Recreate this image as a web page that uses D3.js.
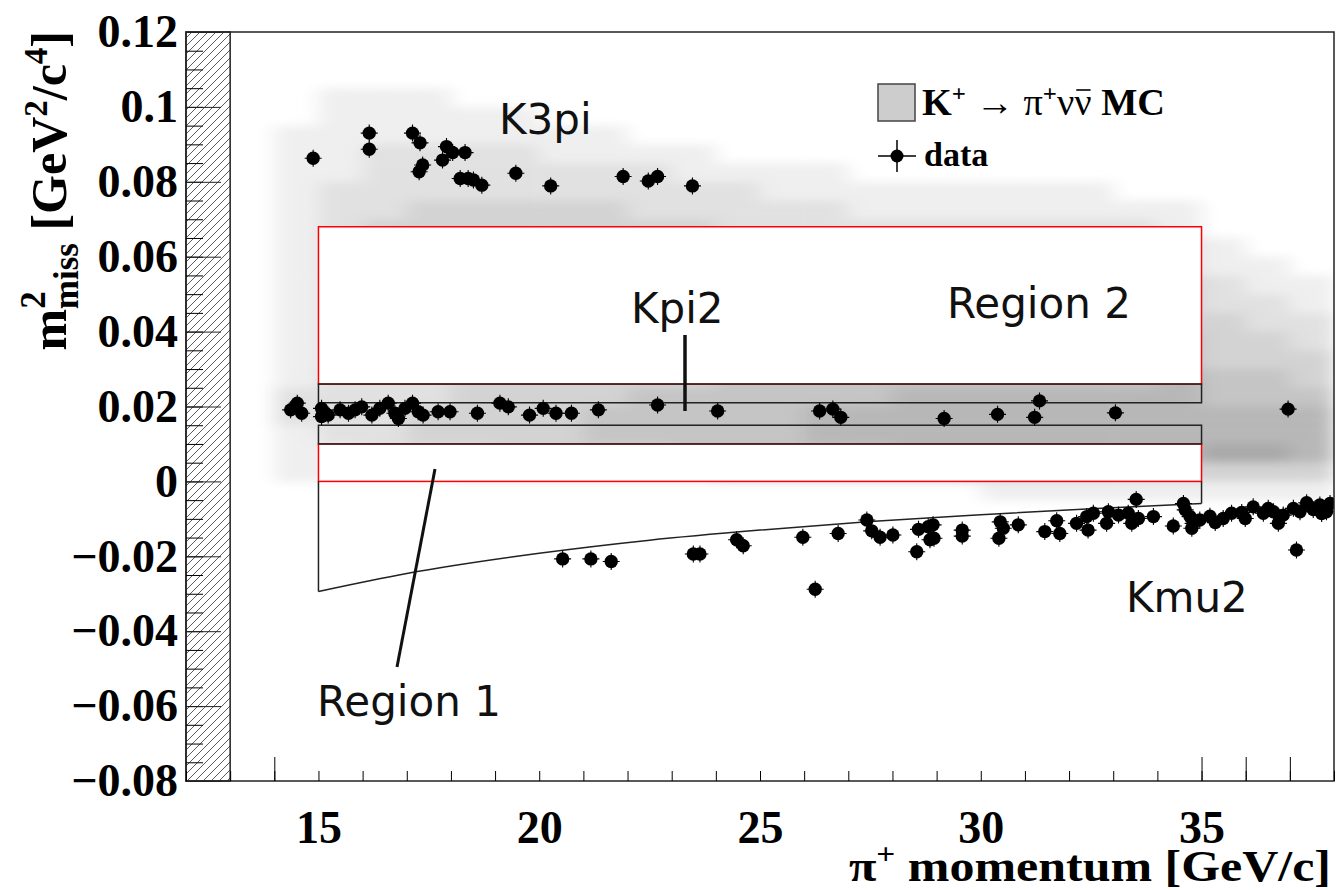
<!DOCTYPE html>
<html>
<head>
<meta charset="utf-8">
<script src="https://cdn.jsdelivr.net/npm/d3@7"></script>
<style>
  body { margin: 0; background: #fff; }
  .serif { font-family: "Liberation Serif", "Times New Roman", serif; font-weight: bold; }
  .sans { font-family: "DejaVu Sans", Verdana, sans-serif; }
</style>
</head>
<body>
<svg id="chart"></svg>
<script>
// DATA ///////////////////////////////////////////////////////////////////

// K3pi data points [p (GeV/c), m2miss (GeV^2/c^4)]
var k3pi_data = [
  [14.88, 0.0863], [16.15, 0.0930], [16.15, 0.0887], [17.13, 0.0930], [17.30, 0.0904],
  [17.90, 0.0894], [17.81, 0.0858], [18.04, 0.0878], [18.32, 0.0878], [17.36, 0.0845],
  [17.28, 0.0827], [18.21, 0.0809], [18.39, 0.0809], [18.51, 0.0805], [18.70, 0.0791],
  [19.47, 0.0823], [20.26, 0.0789], [21.90, 0.0814], [22.47, 0.0802], [22.68, 0.0814],
  [23.47, 0.0789]
];

// Kpi2 data points
var kpi2_data = [
  [14.37, 0.0191], [14.52, 0.0209], [14.62, 0.0182], [15.07, 0.0195], [15.07, 0.0173],
  [15.22, 0.0177], [15.49, 0.0191], [15.68, 0.0182], [15.83, 0.0191], [15.98, 0.0199],
  [16.21, 0.0177], [16.39, 0.0195], [16.58, 0.0209], [16.73, 0.0182], [16.81, 0.0168],
  [16.96, 0.0195], [17.13, 0.0209], [17.26, 0.0186], [17.37, 0.0177], [17.71, 0.0186],
  [17.98, 0.0186], [18.60, 0.0182], [19.11, 0.0209], [19.30, 0.0199], [19.78, 0.0177],
  [20.09, 0.0195], [20.38, 0.0182], [20.73, 0.0182], [21.34, 0.0191], [22.68, 0.0204],
  [24.04, 0.0188], [26.35, 0.0188], [26.65, 0.0193], [26.83, 0.0171], [29.17, 0.0168],
  [30.38, 0.0179], [31.22, 0.0171], [31.33, 0.0215], [33.05, 0.0183], [36.96, 0.0193]
];

// Kmu2 data points
var kmu2_data = [
  [20.53, -0.0207], [21.17, -0.0207], [21.63, -0.0214], [23.49, -0.0194], [23.64, -0.0194],
  [24.47, -0.0156], [24.62, -0.0172], [25.97, -0.0149], [26.25, -0.0288], [26.77, -0.0139],
  [27.42, -0.0103], [27.53, -0.0132], [27.72, -0.0149], [28.01, -0.0143], [28.59, -0.0128],
  [28.55, -0.0188], [28.81, -0.0121], [28.85, -0.0156], [28.92, -0.0116], [28.94, -0.0152],
  [29.58, -0.0130], [29.58, -0.0146], [30.44, -0.0108], [30.51, -0.0125], [30.41, -0.0152],
  [30.85, -0.0116], [31.45, -0.0134], [31.72, -0.0105], [31.79, -0.0139], [32.17, -0.0112],
  [32.40, -0.0094], [32.43, -0.0130], [32.55, -0.0085], [32.89, -0.0081], [32.85, -0.0112],
  [33.12, -0.0090], [33.34, -0.0085], [33.42, -0.0112], [33.52, -0.0048], [33.57, -0.0099],
  [33.91, -0.0094], [34.36, -0.0119], [34.59, -0.0059], [34.63, -0.0076], [34.74, -0.0094],
  [34.81, -0.0112], [34.78, -0.0125], [34.96, -0.0103], [35.19, -0.0093], [35.31, -0.0110],
  [35.49, -0.0099], [35.68, -0.0085], [35.91, -0.0083], [35.99, -0.0099], [36.17, -0.0068],
  [36.40, -0.0085], [36.51, -0.0072], [36.63, -0.0081], [36.74, -0.0112], [36.85, -0.0090],
  [37.08, -0.0072], [37.15, -0.0183], [37.23, -0.0081], [37.38, -0.0057], [37.53, -0.0075],
  [37.68, -0.0063], [37.72, -0.0086], [37.83, -0.0081], [37.91, -0.0059]
];

// Region 1 lower boundary (Kmu2 kinematic edge)
var bound_p  = [15, 17, 20, 22.5, 25, 27.5, 30, 32.5, 35];
var bound_m2 = [-0.0294, -0.0246, -0.0192, -0.0157, -0.0130, -0.0107, -0.0089, -0.0073, -0.0059];

// signal / control regions
var p_range = [15, 35];
var region1 = [0, 0.01];
var region2 = [0.026, 0.068];
var control_boxes = [[0.021, 0.026], [0.010, 0.015]];

// K+ -> pi+ nu nubar MC, gray level per cell (0 = empty)
// columns: p = 14..37 (1 GeV), rows: m2 bin lower edge from 0.105 down to -0.005 (0.005 steps)
var mc_p0 = 14, mc_dp = 1;
var mc_m2_top = 0.105, mc_dm2 = 0.005;
var mc_rows = [
  "000000000000000000000000",
  "011100000000000000000000",
  "011111000000000000000000",
  "111111110000000000000000",
  "112222111100000000000000",
  "112222222111100000000000",
  "122222222221111111100000",
  "122333332222211111111000",
  "123333333322222222221000",
  "123333333333332222222100",
  "123333333333333333222110",
  "123333333333333333333211",
  "123333333333333333333221",
  "123333333333333333333322",
  "123333333333333444444332",
  "123333333333444444444333",
  "122233333344444444445443",
  "222233334444445555555444",
  "222333344444555555555555",
  "122333344444555555555555",
  "112223333444445555555665",
  "111122222233333333333333",
  "000000000000000011111111"
];

var y_ticks = [-0.08, -0.06, -0.04, -0.02, 0, 0.02, 0.04, 0.06, 0.08, 0.1, 0.12];
var x_labels = [15, 20, 25, 30, 35];
var x_long_ticks = [14, 35, 36, 37];

// SETUP //////////////////////////////////////////////////////////////////

const W = 1336, H = 890;
const LEFT = 186, RIGHT = 1334, TOP = 32, BOTTOM = 781;

var svg = d3.select('#chart').attr('width', W).attr('height', H);

var x = d3.scaleLinear().domain([12, 38]).range([LEFT, RIGHT]);
var y = d3.scaleLinear().domain([-0.08, 0.12]).range([BOTTOM, TOP]);

var grey = d3.scaleLinear().domain([1, 6]).range(['#efefef', '#a9a9a9']);

var defs = svg.append('defs');
defs.append('clipPath').attr('id', 'plotclip')
    .append('rect').attr('x', LEFT).attr('y', TOP)
    .attr('width', RIGHT - LEFT).attr('height', BOTTOM - TOP);
defs.append('filter').attr('id', 'soft')
    .attr('x', '-5%').attr('y', '-5%').attr('width', '110%').attr('height', '110%')
    .append('feGaussianBlur').attr('stdDeviation', '10 5');
var hatch = defs.append('pattern').attr('id', 'hatch')
    .attr('patternUnits', 'userSpaceOnUse').attr('width', 8).attr('height', 8);
hatch.append('path').attr('d', 'M-2,2 l4,-4 M0,8 l8,-8 M6,10 l4,-4')
    .attr('stroke', '#333').attr('stroke-width', 0.8);

var plot = svg.append('g').attr('clip-path', 'url(#plotclip)');

// MC HISTOGRAM ///////////////////////////////////////////////////////////

var mc_cells = [];
mc_rows.forEach(function (row, r) {
    row.split('').forEach(function (c, i) {
        var v = +c;
        if (v > 0) mc_cells.push({ p: mc_p0 + i * mc_dp, m2: mc_m2_top - r * mc_dm2, v: v });
    });
});

plot.append('g').attr('filter', 'url(#soft)')
    .selectAll('rect')
    .data(mc_cells)
    .enter()
    .append('rect')
    .attr('x', function (d) { return x(d.p); })
    .attr('y', function (d) { return y(d.m2 + mc_dm2); })
    .attr('width', function (d) { return x(d.p + mc_dp) - x(d.p) + 0.5; })
    .attr('height', function (d) { return y(d.m2) - y(d.m2 + mc_dm2) + 0.5; })
    .attr('fill', function (d) { return grey(d.v); });

// REGIONS ////////////////////////////////////////////////////////////////

[region2, region1].forEach(function (r) {
    plot.append('rect')
        .attr('x', x(p_range[0])).attr('y', y(r[1]))
        .attr('width', x(p_range[1]) - x(p_range[0]))
        .attr('height', y(r[0]) - y(r[1]))
        .attr('fill', '#fff')
        .attr('stroke', '#f00').attr('stroke-width', 1.5);
});

control_boxes.forEach(function (r) {
    plot.append('rect')
        .attr('x', x(p_range[0])).attr('y', y(r[1]))
        .attr('width', x(p_range[1]) - x(p_range[0]))
        .attr('height', y(r[0]) - y(r[1]))
        .attr('fill', 'none')
        .attr('stroke', '#222').attr('stroke-width', 1.5);
});

// region 1 outline below zero
var bound = bound_p.map(function (p, i) { return [p, bound_m2[i]]; });
var line = d3.line()
    .x(function (d) { return x(d[0]); })
    .y(function (d) { return y(d[1]); });
plot.append('path')
    .attr('d', line.curve(d3.curveMonotoneX)(bound))
    .attr('fill', 'none').attr('stroke', '#222').attr('stroke-width', 1.5);
[[[p_range[0], region1[0]], bound[0]], [[p_range[1], region1[0]], bound[bound.length - 1]]]
    .forEach(function (seg) {
        plot.append('path')
            .attr('d', line.curve(d3.curveLinear)(seg))
            .attr('fill', 'none').attr('stroke', '#222').attr('stroke-width', 1.5);
    });

// DATA POINTS ////////////////////////////////////////////////////////////

var all_data = k3pi_data.concat(kpi2_data).concat(kmu2_data);
var marks = plot.append('g').selectAll('g')
    .data(all_data)
    .enter()
    .append('g')
    .attr('transform', function (d) { return 'translate(' + x(d[0]) + ',' + y(d[1]) + ')'; });
marks.append('path').attr('d', 'M-8.5,0H8.5M0,-8.5V8.5')
    .attr('stroke', '#000').attr('stroke-width', 1.1);
marks.append('circle').attr('r', 6.7).attr('fill', '#000');

// HATCHED BAND + FRAME ///////////////////////////////////////////////////

svg.append('rect')
    .attr('x', x(12)).attr('y', TOP)
    .attr('width', x(13) - x(12)).attr('height', BOTTOM - TOP)
    .attr('fill', 'url(#hatch)').attr('stroke', '#222').attr('stroke-width', 1.5);

svg.append('rect')
    .attr('x', LEFT).attr('y', TOP)
    .attr('width', RIGHT - LEFT).attr('height', BOTTOM - TOP)
    .attr('fill', 'none').attr('stroke', '#222').attr('stroke-width', 1.5);

// AXES ///////////////////////////////////////////////////////////////////

// y minor ticks
svg.append('g')
    .attr('transform', 'translate(' + LEFT + ',0)')
    .call(d3.axisLeft(y).ticks(40).tickSize(-17).tickFormat(''))
    .call(function (g) { g.select('.domain').remove(); });

// y major ticks + labels
var yaxis = svg.append('g')
    .attr('transform', 'translate(' + LEFT + ',0)')
    .call(d3.axisLeft(y).tickValues(y_ticks).tickSize(-35).tickPadding(8).tickFormat(d3.format('~g')));
yaxis.select('.domain').remove();
yaxis.selectAll('line').attr('stroke', '#222');
yaxis.selectAll('text')
    .attr('class', 'serif')
    .style('font-size', '46px')
    .attr('fill', '#000');

// x minor ticks
svg.append('g')
    .attr('transform', 'translate(0,' + BOTTOM + ')')
    .call(d3.axisBottom(x).ticks(26).tickSize(-10).tickFormat(''))
    .call(function (g) { g.select('.domain').remove(); });

// x long ticks
svg.append('g')
    .attr('transform', 'translate(0,' + BOTTOM + ')')
    .call(d3.axisBottom(x).tickValues(x_long_ticks).tickSize(-24).tickFormat(''))
    .call(function (g) { g.select('.domain').remove(); });

// x labels
var xaxis = svg.append('g')
    .attr('transform', 'translate(0,' + BOTTOM + ')')
    .call(d3.axisBottom(x).tickValues(x_labels).tickSize(0).tickFormat(d3.format('d')));
xaxis.select('.domain').remove();
xaxis.selectAll('text')
    .attr('class', 'serif')
    .attr('y', 62).attr('dy', 0)
    .style('font-size', '46px')
    .attr('fill', '#000');

// axis titles
var xt = svg.append('text').attr('class', 'serif')
    .attr('x', 1331).attr('y', 881)
    .attr('textLength', 482).attr('lengthAdjust', 'spacingAndGlyphs')
    .style('font-size', '45px').style('text-anchor', 'end');
xt.append('tspan').text('\u03C0');
xt.append('tspan').attr('dy', -17).style('font-size', '30px').text('+');
xt.append('tspan').attr('dy', 17).text(' momentum [GeV/c]');

var yt = svg.append('text').attr('class', 'serif')
    .attr('transform', 'translate(66,31) rotate(-90)')
    .style('font-size', '50px').style('text-anchor', 'end');
yt.append('tspan').text('m');
yt.append('tspan').attr('dy', -21).style('font-size', '35px').text('2');
yt.append('tspan').attr('dx', -18).attr('dy', 33).style('font-size', '35px').text('miss');
yt.append('tspan').attr('dy', -12).text(' [GeV');
yt.append('tspan').attr('dy', -19).style('font-size', '33px').text('2');
yt.append('tspan').attr('dy', 19).text('/c');
yt.append('tspan').attr('dy', -19).style('font-size', '33px').text('4');
yt.append('tspan').attr('dy', 19).text(']');

// ANNOTATIONS ////////////////////////////////////////////////////////////

var notes = [
    { t: 'K3pi', x: 499, y: 134 },
    { t: 'Kpi2', x: 631, y: 323 },
    { t: 'Region 2', x: 947, y: 318 },
    { t: 'Kmu2', x: 1126, y: 612 },
    { t: 'Region 1', x: 317, y: 716 }
];
svg.selectAll('.note')
    .data(notes)
    .enter()
    .append('text')
    .attr('class', 'sans note')
    .attr('x', function (d) { return d.x; })
    .attr('y', function (d) { return d.y; })
    .style('font-size', '42px')
    .attr('fill', '#111')
    .text(function (d) { return d.t; });

svg.append('line').attr('x1', 685).attr('y1', 335).attr('x2', 685).attr('y2', 411)
    .attr('stroke', '#111').attr('stroke-width', 3.5);
svg.append('line').attr('x1', 435).attr('y1', 469).attr('x2', 397).attr('y2', 667)
    .attr('stroke', '#111').attr('stroke-width', 3);

// LEGEND /////////////////////////////////////////////////////////////////

svg.append('rect').attr('x', 878).attr('y', 84).attr('width', 37).attr('height', 37)
    .attr('fill', '#cdcdcd').attr('stroke', '#444').attr('stroke-width', 1.5);
var lt = svg.append('text').attr('class', 'serif')
    .attr('x', 922).attr('y', 115)
    .attr('textLength', 243).attr('lengthAdjust', 'spacingAndGlyphs')
    .style('font-size', '37px');
lt.append('tspan').text('K');
lt.append('tspan').attr('dy', -14).style('font-size', '24px').text('+');
lt.append('tspan').attr('dy', 14).style('font-weight', 'normal').text('  \u2192  ');
lt.append('tspan').style('font-weight', 'normal').text('\u03C0');
lt.append('tspan').attr('dy', -14).style('font-size', '24px').text('+');
lt.append('tspan').attr('dy', 14).style('font-weight', 'normal').text('\u03BD');
var nubar = lt.append('tspan').style('font-weight', 'normal').text('\u03BD');
lt.append('tspan').text(' MC');
// bar over the anti-neutrino
var nu = nubar.node().getExtentOfChar(0);
svg.append('line')
    .attr('x1', nu.x + 2).attr('x2', nu.x + nu.width - 1)
    .attr('y1', 115 - 25).attr('y2', 115 - 25)
    .attr('stroke', '#000').attr('stroke-width', 1.6);

svg.append('path').attr('d', 'M878,156H916M897,140V172')
    .attr('stroke', '#000').attr('stroke-width', 1.5);
svg.append('circle').attr('cx', 897).attr('cy', 156).attr('r', 6.5).attr('fill', '#000');
svg.append('text').attr('class', 'serif')
    .attr('x', 924).attr('y', 166).style('font-size', '34px').text('data');
</script>
</body>
</html>
